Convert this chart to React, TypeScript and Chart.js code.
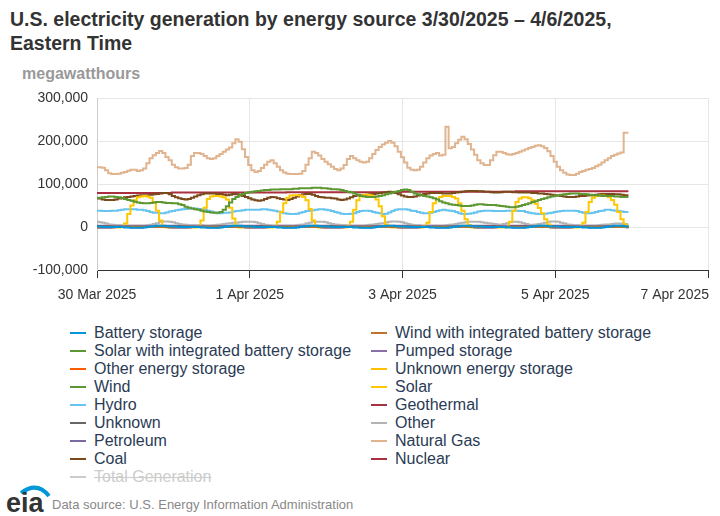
import React, { useEffect, useRef } from "react";
import { Chart, registerables } from "chart.js";

Chart.register(...registerables);

// Hourly values (thousand MWh), hour 0 = 30 Mar 2025 00:00 ET
const naturalGas = [
  139, 139, 138, 132, 125, 123, 123, 124, 126, 128, 131, 133, 133, 130, 132, 136, 148, 160, 167, 172, 177, 172, 163, 155,
  145, 139, 136, 136, 137, 145, 165, 172, 172, 170, 165, 160, 158, 160, 165, 170, 175, 180, 185, 195, 204, 198, 181, 163,
  144, 132, 128, 130, 137, 145, 152, 155, 148, 140, 132, 127, 124, 123, 123, 123, 124, 130, 145, 160, 175, 172, 166, 158,
  152, 146, 140, 135, 132, 136, 144, 158, 165, 160, 155, 152, 150, 152, 160, 170, 179, 186, 192, 196, 200, 196, 188, 175,
  162, 150, 138, 133, 132, 133, 140, 150, 160, 166, 170, 172, 166, 168, 233, 183, 186, 195, 203, 210, 204, 193, 180, 168,
  155, 148, 144, 144, 155, 167, 175, 175, 172, 169, 168, 170, 172, 175, 178, 181, 184, 186, 189, 190, 188, 184, 176, 165,
  152, 140, 132, 126, 122, 121, 121, 124, 128, 130, 133, 135, 137, 141, 145, 150, 155, 160, 165, 168, 171, 173, 219, 219,
];

const nuclear = [
  79, 79, 79, 79, 79, 79, 79, 79, 79, 79, 79, 79, 79, 79, 79, 79, 79, 79, 79, 79, 79, 79, 79, 79,
  80, 80, 80, 80, 80, 80, 80, 80, 80, 80, 80, 80, 80, 80, 80, 80, 80, 80, 80, 80, 80, 80, 80, 80,
  80, 80, 80, 80, 80, 80, 80, 80, 80, 80, 80, 80, 81, 81, 81, 81, 81, 81, 81, 81, 81, 81, 81, 81,
  81, 81, 81, 81, 81, 81, 81, 81, 81, 81, 81, 81, 81, 81, 81, 81, 81, 81, 81, 81, 81, 81, 81, 81,
  82, 82, 82, 82, 82, 82, 82, 82, 82, 82, 82, 82, 82, 82, 82, 82, 82, 82, 82, 82, 82, 82, 82, 82,
  82, 82, 82, 82, 82, 82, 82, 82, 82, 82, 82, 82, 83, 83, 83, 83, 83, 83, 83, 83, 83, 83, 83, 83,
  83, 83, 83, 83, 83, 83, 83, 83, 83, 83, 83, 83, 83, 83, 83, 83, 83, 83, 83, 83, 83, 83, 83, 83,
];

const coal = [
  67, 66, 64, 63, 63, 63, 64, 66, 67, 69, 70, 71, 72, 73, 74, 74, 74, 75, 76, 77, 78, 79, 79, 76,
  72, 69, 67, 65, 64, 65, 68, 71, 74, 76, 78, 78, 78, 78, 77, 77, 75, 74, 75, 77, 76, 74, 72, 70,
  67, 64, 62, 61, 62, 65, 68, 70, 69, 67, 65, 64, 63, 65, 68, 71, 74, 76, 77, 77, 75, 72, 70, 69,
  68, 68, 67, 66, 64, 63, 64, 66, 69, 72, 74, 74, 74, 75, 76, 77, 78, 79, 80, 81, 82, 81, 79, 76,
  73, 71, 70, 70, 71, 73, 75, 77, 78, 79, 79, 79, 79, 78, 78, 78, 79, 80, 81, 82, 83, 84, 84, 84,
  83, 83, 82, 82, 81, 80, 80, 81, 82, 82, 82, 81, 81, 80, 80, 80, 80, 79, 79, 78, 78, 77, 76, 75,
  74, 73, 72, 71, 70, 70, 70, 71, 72, 72, 73, 74, 74, 75, 76, 77, 77, 77, 77, 76, 76, 75, 74, 74,
];

const wind = [
  67, 68, 69, 70, 71, 71, 70, 69, 67, 65, 63, 61, 59, 57, 56, 55, 55, 56, 57, 58, 58, 57, 56, 56,
  55, 55, 53, 51, 47, 45, 43, 41, 40, 38, 36, 35, 34, 33, 33, 35, 40, 48, 57, 65, 70, 74, 77, 79,
  81, 82, 83, 84, 85, 86, 86, 87, 87, 87, 88, 88, 88, 88, 89, 89, 90, 90, 90, 90, 91, 91, 91, 90,
  90, 89, 88, 88, 87, 86, 84, 82, 81, 78, 75, 72, 71, 70, 70, 70, 71, 72, 74, 76, 78, 80, 82, 84,
  86, 87, 86, 82, 78, 76, 74, 72, 71, 69, 67, 64, 60, 57, 55, 53, 52, 51, 50, 49, 49, 49, 50, 52,
  53, 53, 52, 51, 51, 51, 50, 49, 48, 47, 46, 46, 47, 49, 51, 53, 55, 58, 60, 63, 65, 67, 69, 71,
  72, 74, 75, 76, 77, 78, 78, 78, 77, 77, 76, 75, 74, 74, 73, 72, 72, 72, 72, 71, 71, 70, 70, 70,
];

const solar = [
  -1, -1, -1, -1, -1, -1, -1, -1, 0, 8, 30, 50, 62, 69, 71, 72, 71, 68, 58, 38, 15, 2, -1, -1,
  -1, -1, -1, -1, -1, -1, -1, -1, 2, 15, 45, 65, 71, 72, 72, 71, 69, 64, 45, 20, 3, -1, -1, -1,
  -1, -1, -1, -1, -1, -1, -1, -1, 2, 12, 35, 55, 68, 73, 74, 74, 73, 70, 62, 42, 15, 2, -1, -1,
  -1, -1, -1, -1, -1, -1, -1, 2, 12, 40, 62, 72, 75, 75, 74, 71, 64, 48, 25, 6, 0, -1, -1, -1,
  -1, -1, -1, -1, -1, -1, -1, 2, 10, 35, 55, 65, 70, 72, 72, 72, 70, 66, 55, 38, 18, 4, -1, -1,
  -1, -1, -1, -1, -1, -1, -1, -1, -1, 2, 12, 38, 58, 66, 69, 69, 67, 62, 54, 44, 32, 18, 6, -1,
  -1, -1, -1, -1, -1, -1, -1, -1, 2, 10, 35, 58, 68, 72, 73, 73, 72, 69, 63, 52, 35, 18, 6, 2,
];

const hydro = [
  38, 38, 37, 37, 37, 38, 38, 39, 40, 41, 41, 41, 41, 40, 40, 39, 37, 35, 33, 33, 32, 32, 34, 36,
  37, 39, 40, 41, 42, 43, 43, 43, 42, 41, 40, 38, 36, 34, 32, 32, 33, 33, 34, 36, 37, 38, 39, 40,
  40, 40, 40, 40, 41, 41, 40, 39, 38, 36, 34, 32, 31, 30, 30, 31, 33, 35, 37, 38, 39, 40, 41, 41,
  40, 39, 37, 35, 33, 31, 30, 30, 31, 32, 35, 37, 38, 38, 37, 35, 33, 32, 30, 31, 34, 37, 40, 41,
  41, 41, 40, 38, 37, 35, 33, 32, 32, 33, 35, 37, 39, 40, 39, 38, 37, 35, 32, 30, 30, 31, 32, 34,
  36, 37, 38, 38, 38, 37, 37, 37, 37, 38, 38, 38, 38, 37, 37, 35, 33, 32, 31, 30, 30, 31, 32, 33,
  35, 36, 37, 38, 38, 38, 38, 37, 35, 33, 32, 32, 33, 35, 37, 38, 40, 40, 39, 38, 37, 36, 35, 35,
];

const other = [
  12, 11, 10, 8, 6, 5, 4, 4, 3, 3, 3, 3, 3, 3, 3, 3, 4, 5, 7, 9, 12, 13, 13, 12,
  11, 9, 7, 6, 5, 4, 4, 4, 4, 4, 3, 3, 3, 4, 5, 6, 7, 8, 9, 10, 10, 11, 12, 12,
  12, 12, 11, 9, 7, 5, 4, 3, 3, 3, 3, 3, 3, 3, 3, 4, 5, 6, 8, 10, 12, 12, 12, 12,
  11, 9, 7, 6, 5, 4, 4, 3, 3, 3, 3, 3, 3, 4, 5, 6, 7, 8, 9, 11, 12, 13, 13, 12,
  11, 9, 7, 5, 4, 4, 3, 3, 3, 3, 3, 3, 3, 3, 4, 5, 6, 7, 9, 10, 11, 12, 12, 12,
  12, 11, 10, 9, 8, 7, 6, 6, 7, 9, 11, 12, 12, 11, 9, 7, 5, 5, 6, 7, 8, 10, 12, 13,
  13, 12, 10, 8, 6, 5, 4, 4, 3, 3, 3, 3, 3, 3, 4, 5, 6, 6, 7, 8, 8, 8, 7, 6,
];

const unknown = [
  1, 1, 1, 1, 1, 1, 1, 1, 1, 1, 1, 1, 1, 1, 1, 1, 1, 1, 1, 1, 1, 1, 1, 1,
  1, 1, 1, 1, 1, 1, 1, 1, 1, 1, 1, 1, 1, 1, 1, 1, 1, 1, 1, 1, 1, 1, 1, 1,
  1, 1, 1, 1, 1, 1, 1, 1, 1, 1, 1, 1, 1, 1, 1, 1, 1, 1, 1, 1, 1, 1, 1, 1,
  1, 1, 1, 1, 1, 1, 1, 1, 1, 1, 1, 1, 1, 1, 1, 1, 1, 1, 1, 1, 1, 1, 1, 1,
  1, 1, 1, 1, 1, 1, 1, 1, 1, 1, 1, 1, 1, 1, 1, 1, 1, 1, 1, 1, 1, 1, 1, 1,
  1, 1, 1, 1, 1, 1, 1, 1, 1, 1, 1, 1, 1, 1, 1, 1, 1, 1, 1, 1, 1, 1, 1, 1,
  1, 1, 1, 1, 1, 1, 1, 1, 1, 1, 1, 1, 1, 1, 1, 1, 1, 1, 1, 1, 1, 1, 1, 1,
];

const petroleum = [
  3, 3, 3, 3, 3, 3, 3, 3, 3, 3, 3, 3, 3, 3, 3, 3, 3, 3, 3, 3, 3, 3, 3, 3,
  3, 3, 3, 3, 3, 3, 3, 3, 3, 3, 3, 3, 3, 3, 3, 3, 3, 3, 3, 3, 3, 3, 3, 3,
  3, 3, 3, 3, 3, 3, 3, 3, 3, 3, 3, 3, 3, 3, 3, 3, 3, 3, 3, 3, 3, 3, 3, 3,
  3, 3, 3, 3, 3, 3, 3, 3, 3, 3, 3, 3, 3, 3, 3, 3, 3, 3, 3, 3, 3, 3, 3, 3,
  3, 3, 3, 3, 3, 3, 3, 3, 3, 3, 3, 3, 3, 3, 3, 3, 3, 3, 3, 3, 3, 3, 3, 3,
  3, 3, 3, 3, 3, 3, 3, 3, 3, 3, 3, 3, 3, 3, 3, 3, 3, 3, 3, 3, 3, 3, 3, 3,
  3, 3, 3, 3, 3, 3, 3, 3, 3, 3, 3, 3, 3, 3, 3, 3, 3, 3, 3, 3, 3, 3, 3, 3,
];

const pumpedStorage = [
  -2, -2, -2, -2, -2, -1, 0, 1, 2, 1, 0, -1, -1, -1, -1, 0, 1, 2, 2, 2, 2, 1, 0, -1,
  -2, -2, -2, -2, -2, -1, 0, 1, 2, 1, 0, -1, -1, -1, -1, 0, 1, 2, 2, 2, 2, 1, 0, -1,
  -2, -2, -2, -2, -2, -1, 0, 1, 2, 1, 0, -1, -1, -1, -1, 0, 1, 2, 2, 2, 2, 1, 0, -1,
  -2, -2, -2, -2, -2, -1, 0, 1, 2, 1, 0, -1, -1, -1, -1, 0, 1, 2, 2, 2, 2, 1, 0, -1,
  -2, -2, -2, -2, -2, -1, 0, 1, 2, 1, 0, -1, -1, -1, -1, 0, 1, 2, 2, 2, 2, 1, 0, -1,
  -2, -2, -2, -2, -2, -1, 0, 1, 2, 1, 0, -1, -1, -1, -1, 0, 1, 2, 2, 2, 2, 1, 0, -1,
  -2, -2, -2, -2, -2, -1, 0, 1, 2, 1, 0, -1, -1, -1, -1, 0, 1, 2, 2, 2, 2, 1, 0, -1,
];

const batteryStorage = [
  1, 1, 0, 0, 0, 0, 0, 0, 0, -1, -1, -2, -2, -2, -2, -1, 0, 1, 2, 3, 3, 3, 2, 1,
  1, 1, 0, 0, 0, 0, 0, 0, 0, -1, -1, -2, -2, -2, -2, -1, 0, 1, 2, 3, 3, 3, 2, 1,
  1, 1, 0, 0, 0, 0, 0, 0, 0, -1, -1, -2, -2, -2, -2, -1, 0, 1, 2, 3, 3, 3, 2, 1,
  1, 1, 0, 0, 0, 0, 0, 0, 0, -1, -1, -2, -2, -2, -2, -1, 0, 1, 2, 3, 3, 3, 2, 1,
  1, 1, 0, 0, 0, 0, 0, 0, 0, -1, -1, -2, -2, -2, -2, -1, 0, 1, 2, 3, 3, 3, 2, 1,
  1, 1, 0, 0, 0, 0, 0, 0, 0, -1, -1, -2, -2, -2, -2, -1, 0, 1, 2, 3, 3, 3, 2, 1,
  1, 1, 0, 0, 0, 0, 0, 0, 0, -1, -1, -2, -2, -2, -2, -1, 0, 1, 2, 3, 3, 3, 2, 1,
];

const geothermal = [
  0.4, 0.4, 0.4, 0.4, 0.4, 0.4, 0.4, 0.4, 0.4, 0.4, 0.4, 0.4, 0.4, 0.4, 0.4, 0.4, 0.4, 0.4, 0.4, 0.4, 0.4, 0.4, 0.4, 0.4,
  0.4, 0.4, 0.4, 0.4, 0.4, 0.4, 0.4, 0.4, 0.4, 0.4, 0.4, 0.4, 0.4, 0.4, 0.4, 0.4, 0.4, 0.4, 0.4, 0.4, 0.4, 0.4, 0.4, 0.4,
  0.4, 0.4, 0.4, 0.4, 0.4, 0.4, 0.4, 0.4, 0.4, 0.4, 0.4, 0.4, 0.4, 0.4, 0.4, 0.4, 0.4, 0.4, 0.4, 0.4, 0.4, 0.4, 0.4, 0.4,
  0.4, 0.4, 0.4, 0.4, 0.4, 0.4, 0.4, 0.4, 0.4, 0.4, 0.4, 0.4, 0.4, 0.4, 0.4, 0.4, 0.4, 0.4, 0.4, 0.4, 0.4, 0.4, 0.4, 0.4,
  0.4, 0.4, 0.4, 0.4, 0.4, 0.4, 0.4, 0.4, 0.4, 0.4, 0.4, 0.4, 0.4, 0.4, 0.4, 0.4, 0.4, 0.4, 0.4, 0.4, 0.4, 0.4, 0.4, 0.4,
  0.4, 0.4, 0.4, 0.4, 0.4, 0.4, 0.4, 0.4, 0.4, 0.4, 0.4, 0.4, 0.4, 0.4, 0.4, 0.4, 0.4, 0.4, 0.4, 0.4, 0.4, 0.4, 0.4, 0.4,
  0.4, 0.4, 0.4, 0.4, 0.4, 0.4, 0.4, 0.4, 0.4, 0.4, 0.4, 0.4, 0.4, 0.4, 0.4, 0.4, 0.4, 0.4, 0.4, 0.4, 0.4, 0.4, 0.4, 0.4,
];

const zeroSeries = [
  0, 0, 0, 0, 0, 0, 0, 0, 0, 0, 0, 0, 0, 0, 0, 0, 0, 0, 0, 0, 0, 0, 0, 0,
  0, 0, 0, 0, 0, 0, 0, 0, 0, 0, 0, 0, 0, 0, 0, 0, 0, 0, 0, 0, 0, 0, 0, 0,
  0, 0, 0, 0, 0, 0, 0, 0, 0, 0, 0, 0, 0, 0, 0, 0, 0, 0, 0, 0, 0, 0, 0, 0,
  0, 0, 0, 0, 0, 0, 0, 0, 0, 0, 0, 0, 0, 0, 0, 0, 0, 0, 0, 0, 0, 0, 0, 0,
  0, 0, 0, 0, 0, 0, 0, 0, 0, 0, 0, 0, 0, 0, 0, 0, 0, 0, 0, 0, 0, 0, 0, 0,
  0, 0, 0, 0, 0, 0, 0, 0, 0, 0, 0, 0, 0, 0, 0, 0, 0, 0, 0, 0, 0, 0, 0, 0,
  0, 0, 0, 0, 0, 0, 0, 0, 0, 0, 0, 0, 0, 0, 0, 0, 0, 0, 0, 0, 0, 0, 0, 0,
];

// x-axis ticks (hours since 30 Mar 2025 00:00) and their labels
const xTickHours = [0, 48, 96, 144, 192];
const xTickLabels = ["30 Mar 2025", "1 Apr 2025", "3 Apr 2025", "5 Apr 2025", "7 Apr 2025"];
const yTicks = [-100000, 0, 100000, 200000, 300000];

// series in drawing order (legend order, row-wise)
const seriesNames = [
  "Battery storage",
  "Wind with integrated battery storage",
  "Solar with integrated battery storage",
  "Pumped storage",
  "Other energy storage",
  "Unknown energy storage",
  "Wind",
  "Solar",
  "Hydro",
  "Geothermal",
  "Unknown",
  "Other",
  "Petroleum",
  "Natural Gas",
  "Coal",
  "Nuclear",
];
const seriesValues = [
  batteryStorage,
  zeroSeries,
  zeroSeries,
  pumpedStorage,
  zeroSeries,
  zeroSeries,
  wind,
  solar,
  hydro,
  geothermal,
  unknown,
  other,
  petroleum,
  naturalGas,
  coal,
  nuclear,
];
const seriesColors = [
  "#0096d7",
  "#bd732a",
  "#5d9732",
  "#8a6fa8",
  "#ff5b00",
  "#ffc000",
  "#5d9732",
  "#ffc700",
  "#67c4ee",
  "#a33340",
  "#666666",
  "#b3b3b3",
  "#7c6aa2",
  "#e0b48e",
  "#7a4a1c",
  "#a8303f",
];

const FONT = "'Liberation Sans', Arial, Helvetica, sans-serif";

// draws the last x tick label right-aligned to its tick (so it stays inside the canvas)
const lastXLabelPlugin = {
  id: "lastXLabel",
  afterDraw(chart: any) {
    const scale = chart.scales.x;
    const ctx = chart.ctx;
    const lastIdx = xTickHours.length - 1;
    const px = scale.getPixelForValue(xTickHours[lastIdx]);
    ctx.save();
    ctx.font = `14px ${FONT}`;
    ctx.fillStyle = "#333333";
    ctx.textAlign = "right";
    ctx.textBaseline = "middle";
    ctx.fillText(xTickLabels[lastIdx], px + 1, scale.top + 8 + 9 + 8.4);
    ctx.restore();
  },
};

export default function App() {
  const canvasRef = useRef<HTMLCanvasElement | null>(null);

  useEffect(() => {
    const canvas = canvasRef.current;
    if (!canvas) return;
    const datasets = seriesNames.map((name, si) => ({
      label: name,
      data: seriesValues[si].map((v, i) => ({ x: i, y: v * 1000 })),
      borderColor: seriesColors[si],
      backgroundColor: seriesColors[si],
      borderWidth: 2,
      pointRadius: 0,
      stepped: "middle" as const,
      fill: false,
    }));
    const chart = new Chart(canvas, {
      type: "line",
      data: { datasets },
      plugins: [lastXLabelPlugin],
      options: {
        animation: false,
        responsive: false,
        devicePixelRatio: 1,
        layout: { padding: { top: 98, right: 12, left: 0, bottom: 0 } },
        plugins: { legend: { display: false }, tooltip: { enabled: false }, title: { display: false } },
        scales: {
          x: {
            type: "linear",
            min: 0,
            max: 192,
            afterBuildTicks: (scale: any) => {
              scale.ticks = xTickHours.map((v) => ({ value: v }));
            },
            afterFit: (scale: any) => {
              scale.height = 42;
              scale.paddingRight = 0;
              scale.paddingLeft = 0;
            },
            ticks: {
              color: "#333333",
              font: { family: FONT, size: 14 },
              padding: 9,
              maxRotation: 0,
              autoSkip: false,
              callback: (v: any) => {
                const idx = xTickHours.indexOf(Number(v));
                if (idx === xTickHours.length - 1) return "";
                return idx >= 0 ? xTickLabels[idx] : "";
              },
            },
            grid: {
              color: "#e6e6e6",
              lineWidth: 1,
              tickColor: "#333333",
              tickLength: 8,
              drawTicks: true,
            },
            border: { color: "#333333", width: 1 },
          },
          y: {
            type: "linear",
            min: -100000,
            max: 300000,
            afterBuildTicks: (scale: any) => {
              scale.ticks = yTicks.map((v) => ({ value: v }));
            },
            afterFit: (scale: any) => {
              scale.width = 97;
            },
            ticks: {
              color: "#333333",
              font: { family: FONT, size: 14 },
              padding: 9,
              callback: (v: any) => Number(v).toLocaleString("en-US"),
            },
            grid: { color: "#e6e6e6", lineWidth: 1, drawTicks: false },
            border: { color: "#cccccc", width: 1 },
          },
        },
      },
    });
    return () => chart.destroy();
  }, []);

  const legendRows: string[][] = [];
  for (let i = 0; i < seriesNames.length; i += 2) legendRows.push([seriesNames[i], seriesNames[i + 1]]);

  const legendItem = (name: string, color: string, left: number, top: number, hidden = false) => (
    <div
      key={name}
      style={{
        position: "absolute",
        left,
        top,
        height: 18,
        display: "flex",
        alignItems: "center",
        whiteSpace: "nowrap",
      }}
    >
      <div style={{ width: 16, height: 2, background: color, marginRight: 8 }} />
      <span
        style={{
          fontSize: 16,
          color: hidden ? "#cccccc" : "#2b3b55",
          textDecoration: hidden ? "line-through" : "none",
        }}
      >
        {name}
      </span>
    </div>
  );

  return (
    <div
      style={{
        position: "absolute",
        left: 0,
        top: 0,
        width: 720,
        height: 516,
        background: "#ffffff",
        fontFamily: FONT,
        overflow: "hidden",
      }}
    >
      <div
        style={{
          position: "absolute",
          left: 10,
          top: 7,
          fontSize: 19.5,
          fontWeight: "bold",
          lineHeight: "24px",
          color: "#333333",
          whiteSpace: "nowrap",
        }}
      >
        U.S. electricity generation by energy source 3/30/2025 – 4/6/2025,
        <br />
        Eastern Time
      </div>
      <div
        style={{
          position: "absolute",
          left: 22,
          top: 65,
          fontSize: 16,
          fontWeight: "bold",
          color: "#999999",
        }}
      >
        megawatthours
      </div>
      <canvas
        ref={canvasRef}
        width={720}
        height={312}
        style={{ position: "absolute", left: 0, top: 0, width: 720, height: 312 }}
      />
      {legendRows.map((row, r) => (
        <React.Fragment key={r}>
          {legendItem(row[0], seriesColors[r * 2], 70, 324 + r * 18)}
          {legendItem(row[1], seriesColors[r * 2 + 1], 371, 324 + r * 18)}
        </React.Fragment>
      ))}
      {legendItem("Total Generation", "#cccccc", 70, 324 + 8 * 18, true)}
      <svg
        width={48}
        height={32}
        style={{ position: "absolute", left: 5, top: 483 }}
        viewBox="0 0 48 32"
      >
        <path d="M 16 10 Q 32 -2 44 13" stroke="#0096d7" strokeWidth={4} fill="none" />
        <text x={1} y={29} fontFamily={FONT} fontWeight="bold" fontSize={27} fill="#333333">
          eia
        </text>
      </svg>
      <div
        style={{
          position: "absolute",
          left: 52,
          top: 497,
          fontSize: 13,
          color: "#888888",
          whiteSpace: "nowrap",
        }}
      >
        Data source: U.S. Energy Information Administration
      </div>
    </div>
  );
}
